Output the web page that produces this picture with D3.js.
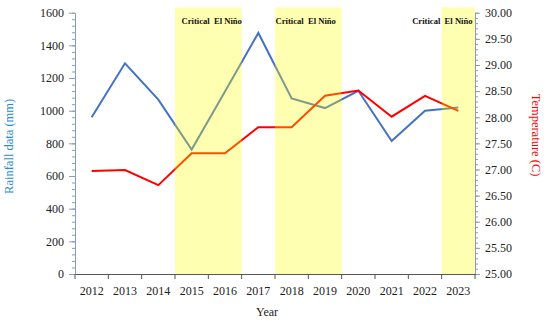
<!DOCTYPE html>
<meta charset="utf-8">
<style>
    body { margin: 0; background: #fff; }
    text { font-family: "Liberation Serif", "Times New Roman", serif; }
    .tick text { font-size: 12px; fill: #222; }
    .band-label { font-size: 8.6px; font-weight: bold; fill: #111; }
</style>

<body>
    <svg width="550" height="321"></svg>
    <script src="https://d3js.org/d3.v7.min.js"></script>
    <script>
        // data
        var years = ["2012", "2013", "2014", "2015", "2016", "2017", "2018", "2019", "2020", "2021", "2022", "2023"];
        var rainfall = [960, 1290, 1068, 762, 1118, 1476, 1075, 1016, 1122, 814, 1000, 1020];
        var temperature = [26.97, 26.99, 26.70, 27.31, 27.31, 27.81, 27.81, 28.41, 28.51, 28.01, 28.41, 28.12];
        var rainTicks = [0, 200, 400, 600, 800, 1000, 1200, 1400, 1600];
        var tempTicks = [25, 25.5, 26, 26.5, 27, 27.5, 28, 28.5, 29, 29.5, 30];
        // El Nino periods: [first year, last year]
        var elNino = [["2015", "2016"], ["2018", "2019"], ["2023", "2023"]];
        var bandText = "Critical\u00a0\u00a0El Niño";

        var svg = d3.select("svg"),
            margin = { top: 12.7, right: 75, bottom: 47, left: 75 },
            width = +svg.attr("width") - margin.left - margin.right,
            height = +svg.attr("height") - margin.top - margin.bottom;

        var x = d3.scaleBand().domain(years).range([0, width]),
            yL = d3.scaleLinear().domain([0, 1600]).range([height, 0]),
            yR = d3.scaleLinear().domain([25, 30]).range([height, 0]);

        var g = svg.append("g")
            .attr("transform", "translate(" + margin.left + "," + margin.top + ")");

        var axisColor = "#8a9bbb";

        // minor ticks left
        g.append("g")
            .call(d3.axisLeft(yL).tickValues(d3.range(0, 1601, 40)).tickSize(3).tickFormat(""))
            .call(function (s) { s.select(".domain").remove(); s.selectAll("line").attr("stroke", axisColor); });
        var left = g.append("g")
            .call(d3.axisLeft(yL).tickValues(rainTicks).tickSize(6).tickSizeOuter(0).tickPadding(5)
                .tickFormat(d3.format("d")));
        left.selectAll("line, .domain").attr("stroke", axisColor);

        // right axis
        g.append("g")
            .attr("transform", "translate(" + width + ",0)")
            .call(d3.axisRight(yR).tickValues(d3.range(0, 51).map(function (i) { return 25 + i * 0.1; })).tickSize(3).tickFormat(""))
            .call(function (s) { s.select(".domain").remove(); s.selectAll("line").attr("stroke", axisColor); });
        var right = g.append("g")
            .attr("transform", "translate(" + width + ",0)")
            .call(d3.axisRight(yR).tickValues(tempTicks).tickSize(5).tickSizeOuter(0).tickPadding(5)
                .tickFormat(d3.format(".2f")));
        right.selectAll("line, .domain").attr("stroke", axisColor);

        // bottom axis, ticks between categories
        var bottom = g.append("g")
            .attr("transform", "translate(0," + height + ")")
            .call(d3.axisBottom(x).tickSize(0).tickPadding(12));
        bottom.select(".domain").attr("stroke", "#555");
        bottom.selectAll(".edge")
            .data(d3.range(years.length + 1))
            .enter().append("line")
            .attr("x1", function (i) { return i * x.step(); })
            .attr("x2", function (i) { return i * x.step(); })
            .attr("y1", 0).attr("y2", 5)
            .attr("stroke", "#555");

        var line = function (scale, vals) {
            return d3.line()
                .x(function (d, i) { return x(years[i]) + x.bandwidth() / 2; })
                .y(function (d) { return scale(d); })(vals);
        };

        g.append("path").attr("d", line(yL, rainfall))
            .attr("fill", "none").attr("stroke", "#4472c4").attr("stroke-width", 2);
        g.append("path").attr("d", line(yR, temperature))
            .attr("fill", "none").attr("stroke", "#ff0000").attr("stroke-width", 2);

        // translucent yellow bands on top
        g.selectAll(".band")
            .data(elNino)
            .enter().append("rect")
            .attr("x", function (d) { return x(d[0]); })
            .attr("y", -5.5)
            .attr("width", function (d) { return x(d[1]) + x.step() - x(d[0]); })
            .attr("height", height + 5.5)
            .attr("fill", "#ffff00")
            .attr("fill-opacity", 0.3);

        var labelOffset = [6.5, 0.5, -29.5];
        g.selectAll(".band-label")
            .data(elNino)
            .enter().append("text")
            .attr("class", "band-label")
            .attr("x", function (d, i) { return x(d[0]) + labelOffset[i]; })
            .attr("y", 11.5)
            .text(bandText);

        // axis titles
        svg.append("text")
            .attr("transform", "translate(13," + (margin.top + height / 2 + 3) + ") rotate(-90)")
            .attr("text-anchor", "middle")
            .attr("font-size", 12.5)
            .attr("fill", "#2e8bd0")
            .text("Rainfall data (mm)");

        svg.append("text")
            .attr("transform", "translate(532,135) rotate(90)")
            .attr("text-anchor", "middle")
            .attr("font-size", 12.5)
            .attr("fill", "#ff0000")
            .text("Temperature (C)");

        svg.append("text")
            .attr("x", margin.left + width / 2 - 8)
            .attr("y", 315.5)
            .attr("text-anchor", "middle")
            .attr("font-size", 12)
            .attr("fill", "#222")
            .text("Year");
    </script>
</body>
